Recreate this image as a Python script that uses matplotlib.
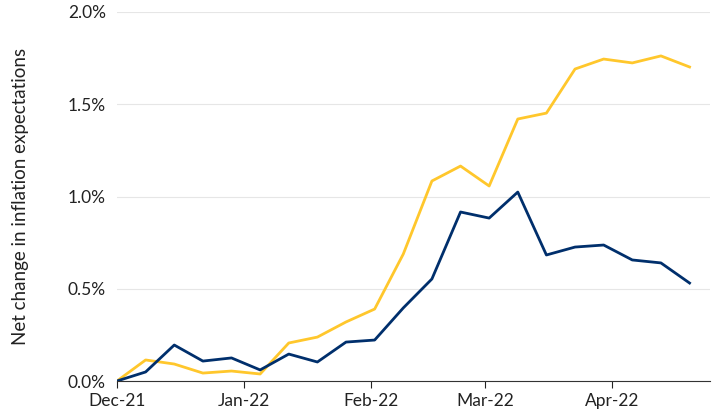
import matplotlib
matplotlib.use("Agg")
import matplotlib.pyplot as plt
import matplotlib.dates as mdates
import numpy as np
import datetime as dt

dates = [dt.date(2021, 12, 1) + dt.timedelta(days=7 * i) for i in range(21)]
navy = [0, .049, .195, .108, .125, .060, .146, .103, .211, .222, .396, .553, .916, .883, 1.024, .683, .726, .737, .656, .640, .531]
yellow = [0, .114, .092, .043, .054, .038, .206, .238, .320, .390, .688, 1.084, 1.165, 1.057, 1.420, 1.452, 1.691, 1.745, 1.724, 1.762, 1.702]
yticks = [0, 0.5, 1.0, 1.5, 2.0]

plt.rcParams['font.family'] = ['Lato', 'DejaVu Sans']
fig = plt.figure(figsize=(7.18, 4.17), dpi=100)
ax = fig.add_axes([117/718, 1-381/417, (710-117)/718, (381-12)/417])
ax.plot(dates, yellow, color='#FFC72C', lw=2)
ax.plot(dates, navy, color='#002F6C', lw=2)
ax.set_ylim(0, 2.0)
ax.set_xlim(dt.date(2021, 12, 1), dt.date(2022, 4, 25))
ax.set_yticks(yticks)
ax.set_yticklabels([f"{v:.1f}%" for v in yticks])
ax.xaxis.set_major_locator(mdates.MonthLocator())
ax.xaxis.set_major_formatter(mdates.DateFormatter('%b-%y'))
ax.grid(axis='y', color='#e6e6e6', lw=0.8)
ax.set_axisbelow(True)
for s in ['top', 'right', 'left']:
    ax.spines[s].set_visible(False)
ax.spines['bottom'].set_color('#333333')
ax.tick_params(axis='y', length=0, labelsize=12.5, colors='#222222', pad=8)
ax.tick_params(axis='x', labelsize=12.5, colors='#222222', length=5)
ax.set_ylabel('Net change in inflation expectations', fontsize=13.5, color='#222222', labelpad=28)
fig.savefig('out.png', dpi=100)
